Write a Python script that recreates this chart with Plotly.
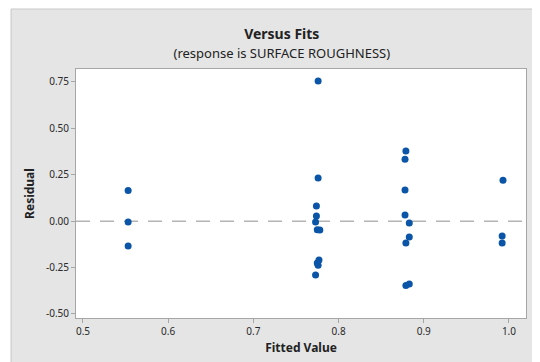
import plotly.graph_objects as go

fitted = [0.553, 0.553, 0.553,
          0.776, 0.776, 0.774, 0.774, 0.773, 0.775, 0.778, 0.777, 0.775, 0.776, 0.773,
          0.879, 0.878, 0.878, 0.878, 0.883, 0.883, 0.879, 0.879, 0.883,
          0.993, 0.992, 0.992]
residual = [0.165, -0.005, -0.134,
            0.755, 0.233, 0.082, 0.028, -0.004, -0.046, -0.048, -0.209, -0.225, -0.238, -0.29,
            0.378, 0.334, 0.168, 0.033, -0.01, -0.085, -0.117, -0.346, -0.338,
            0.221, -0.08, -0.117]
x_ticks = [0.5, 0.6, 0.7, 0.8, 0.9, 1.0]
x_ticklabels = ["0.5", "0.6", "0.7", "0.8", "0.9", "1.0"]
y_ticks = [-0.50, -0.25, 0.00, 0.25, 0.50, 0.75]
y_ticklabels = ["-0.50", "-0.25", "0.00", "0.25", "0.50", "0.75"]

FONT = "Noto Sans"
fig = go.Figure()
fig.add_trace(go.Scatter(
    x=fitted, y=residual, mode="markers",
    marker=dict(color="#0a55a8", size=7, symbol="circle", line=dict(width=0)),
    showlegend=False, hoverinfo="x+y"))

axis_common = dict(showgrid=False, zeroline=False, showline=True, linecolor="#a6a6a6",
                   linewidth=1, mirror=True, ticks="outside", ticklen=4, tickcolor="#a6a6a6",
                   tickfont=dict(family=FONT, size=10, color="#2a2a2a"))
fig.update_xaxes(range=[0.4918, 1.02], tickvals=x_ticks, ticktext=x_ticklabels,
                 title=dict(text="<b>Fitted Value</b>", font=dict(family=FONT, size=12, color="#222"),
                            standoff=6), **axis_common)
fig.update_yaxes(range=[-0.5216, 0.82], tickvals=y_ticks, ticktext=y_ticklabels,
                 title=dict(text="<b>Residual</b>", font=dict(family=FONT, size=12, color="#222"),
                            standoff=8), **axis_common)

# white strips outside the grey panel (left / top) and panel border
fig.add_shape(type="rect", xref="paper", yref="paper", x0=-0.2, x1=-0.1444, y0=-0.3, y1=1.4,
              fillcolor="white", line=dict(width=0), layer="above")
fig.add_shape(type="rect", xref="paper", yref="paper", x0=-0.2, x1=1.2, y0=1.241, y1=1.4,
              fillcolor="white", line=dict(width=0), layer="above")
fig.add_shape(type="rect", xref="paper", yref="paper", x0=-0.1444, x1=1.2, y0=-0.3, y1=1.241,
              fillcolor="rgba(0,0,0,0)", line=dict(color="#c8c8c8", width=1), layer="above")
# zero reference line
fig.add_shape(type="line", xref="paper", yref="y", x0=0, x1=1, y0=0, y1=0,
              line=dict(color="#b4b4b4", width=1.5, dash="14px,10px"), layer="below")

fig.update_layout(
    width=540, height=362,
    margin=dict(l=68, r=22, t=61, b=52),
    paper_bgcolor="#e5e5e5", plot_bgcolor="white",
    title=dict(text="<b>Versus Fits</b><br><span style='font-size:13px'>(response is SURFACE ROUGHNESS)</span>",
               x=0.507, xanchor="center", y=0.9135, yanchor="top",
               font=dict(family=FONT, size=14, color="#222")),
)
fig.write_html("out.html")
